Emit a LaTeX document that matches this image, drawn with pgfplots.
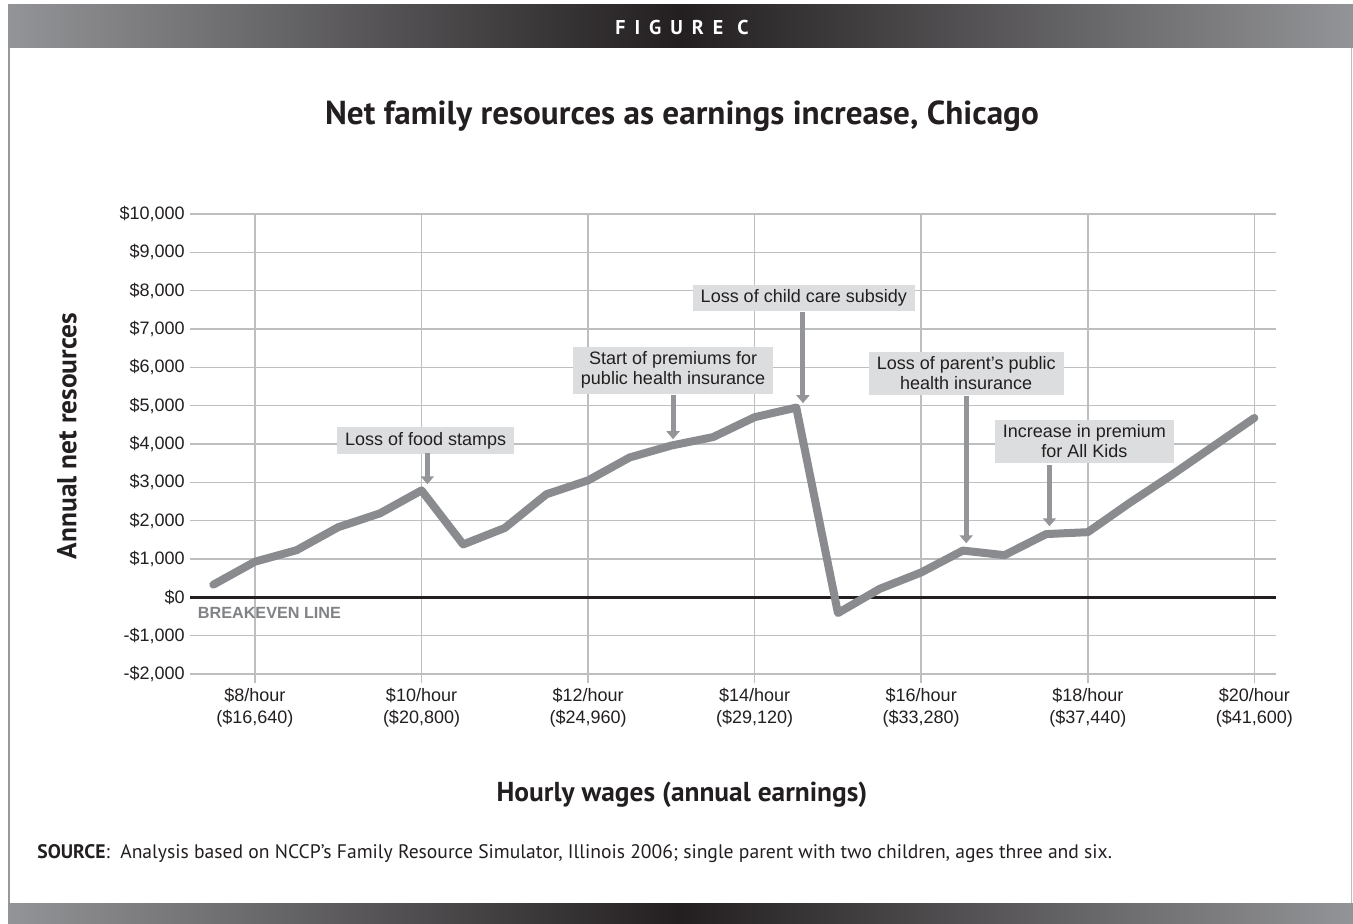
\documentclass[border=0pt]{standalone}
\usepackage{fontspec}
\setmainfont{Liberation Sans}
\newfontfamily\myriad{PT Sans}
\usepackage{pgfplots}
\pgfplotsset{compat=1.18}
\usetikzlibrary{arrows.meta}
\definecolor{ink}{HTML}{231F20}
\definecolor{lineGray}{HTML}{8A8B8E}
\definecolor{arrowGray}{HTML}{939598}
\definecolor{boxGray}{HTML}{DCDDDE}
\definecolor{gridGray}{HTML}{BCBEC0}
\definecolor{bandEdge}{HTML}{939497}
\definecolor{bandMid}{HTML}{231F20}
\definecolor{breakGray}{HTML}{808285}

\pgfplotstableread{
x y
7.5 330
8 930
8.5 1230
9 1830
9.5 2190
10 2790
10.5 1380
11 1810
11.5 2690
12 3050
12.5 3650
13 3960
13.5 4180
14 4700
14.5 4950
15 -410
15.5 220
16 650
16.5 1220
17 1100
17.5 1650
18 1700
18.5 2460
19 3180
19.5 3930
20 4680
}\resources

\begin{document}
\begin{tikzpicture}[font=\fontsize{9}{10}\selectfont, color=ink]
\path[use as bounding box] (0,0) rectangle (676.5pt,-462pt);
% frame
\shade[left color=bandEdge, right color=bandEdge, middle color=bandMid] (4pt,-2.5pt) rectangle (676.5pt,-24pt);
\shade[left color=bandEdge, right color=bandEdge, middle color=bandMid] (4pt,-451.5pt) rectangle (676.5pt,-462pt);
\draw[gridGray!80!black, line width=0.8pt] (4.4pt,-24pt) -- (4.4pt,-451.5pt);
\draw[gridGray, line width=0.8pt] (675.8pt,-24pt) -- (675.8pt,-451.5pt);
\node[text=white, font=\myriad\bfseries\fontsize{10}{12}\selectfont\addfontfeature{LetterSpace=45}] at (341pt,-14pt) {FIGURE C};
\node[font=\myriad\bfseries\fontsize{16.6}{19}\selectfont] at (341pt,-58pt) {Net family resources as earnings increase, Chicago};
\node[rotate=90, font=\myriad\bfseries\fontsize{13.7}{16}\selectfont] at (33.5pt,-218pt) {Annual net resources};
\node[font=\myriad\bfseries\fontsize{13.7}{16}\selectfont] at (341pt,-397.5pt) {Hourly wages (annual earnings)};
\node[anchor=west, inner sep=0pt, font=\myriad\fontsize{9.8}{11}\selectfont] at (18.5pt,-427pt) {\textbf{SOURCE}:\ \ Analysis based on NCCP’s Family Resource Simulator, Illinois 2006; single parent with two children, ages three and six.};

\begin{axis}[
    at={(95pt,-337pt)}, anchor=south west,
    scale only axis, width=543pt, height=230pt,
    xmin=7.22, xmax=20.26, ymin=-2000, ymax=10000,
    axis line style={draw=none},
    scaled ticks=false,
    xtick={8,10,12,14,16,18,20},
    xticklabels={{\$8/hour\\(\$16,640)},{\$10/hour\\(\$20,800)},{\$12/hour\\(\$24,960)},{\$14/hour\\(\$29,120)},{\$16/hour\\(\$33,280)},{\$18/hour\\(\$37,440)},{\$20/hour\\(\$41,600)}},
    ytick={-2000,-1000,...,10000},
    yticklabels={{-\$2,000},{-\$1,000},{\$0},{\$1,000},{\$2,000},{\$3,000},{\$4,000},{\$5,000},{\$6,000},{\$7,000},{\$8,000},{\$9,000},{\$10,000}},
    xmajorgrids, ymajorgrids,
    grid style={gridGray, line width=0.8pt},
    tick align=outside, xtick pos=bottom, ytick pos=left,
    major tick length=4.5pt,
    x tick style={gridGray, line width=0.8pt},
    y tick style={draw=none},
    xticklabel style={align=center, font=\fontsize{9}{11}\selectfont, text=ink, yshift=1pt},
    yticklabel style={font=\fontsize{9}{10}\selectfont, text=ink, inner sep=0pt, xshift=2pt},
    clip=false,
]
\draw[ink, line width=1.4pt] (axis cs:7.22,0) -- (axis cs:20.26,0);
\node[anchor=north west, inner sep=0pt, text=breakGray, font=\bfseries\fontsize{8.1}{9}\selectfont] at (axis cs:7.31,-240) {BREAKEVEN LINE};
\addplot[lineGray, line width=4pt, line join=round, line cap=round] table[x=x, y=y] {\resources};

\tikzset{ann/.style={fill=boxGray, align=center, inner xsep=4pt, inner ysep=2.5pt, font=\fontsize{9}{10}\selectfont},
         arr/.style={arrowGray, line width=2.5pt, -{Triangle[width=6.5pt,length=4pt]}}}
\node[ann] at (axis cs:10.05,4086) {Loss of food stamps};
\draw[arr] (axis cs:10.07,3760) -- (axis cs:10.07,2950);
\node[ann] at (axis cs:13.02,5927) {Start of premiums for\\public health insurance};
\draw[arr] (axis cs:13.02,5274) -- (axis cs:13.02,4125);
\node[ann] at (axis cs:14.59,7807) {Loss of child care subsidy};
\draw[arr] (axis cs:14.58,7441) -- (axis cs:14.58,5065);
\node[ann] at (axis cs:16.54,5849) {Loss of parent’s public\\health insurance};
\draw[arr] (axis cs:16.54,5248) -- (axis cs:16.54,1410);
\node[ann] at (axis cs:17.96,4073) {Increase in premium\\for All Kids};
\draw[arr] (axis cs:17.54,3446) -- (axis cs:17.54,1854);
\end{axis}
\end{tikzpicture}
\end{document}
